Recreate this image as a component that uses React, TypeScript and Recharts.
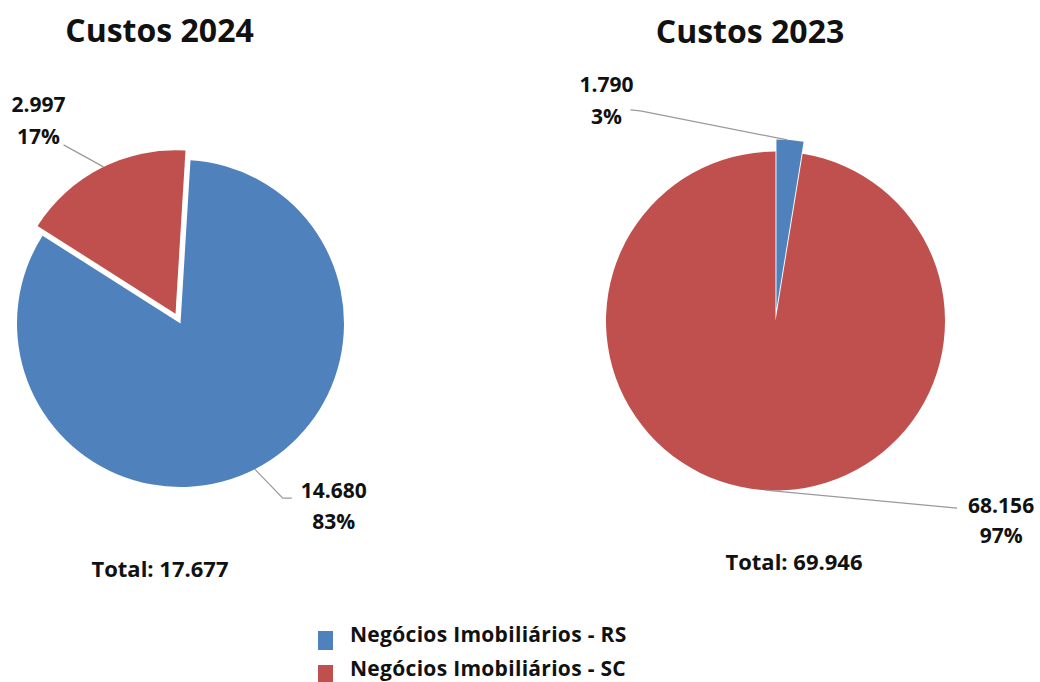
import React from "react";
import { PieChart, Pie, Cell } from "recharts";

// ---- data ----
const seriesNames = ["Negócios Imobiliários - RS", "Negócios Imobiliários - SC"];
const chartTitles = ["Custos 2024", "Custos 2023"];
const values2024 = [14680, 2997];
const values2023 = [1790, 68156];
const explodedIndex = [1, 0]; // which slice is pulled out in each chart

// ---- styles / layout ----
const COLORS = ["#4F81BD", "#C0504D"];
const FONT = "'Open Sans', 'Noto Sans', sans-serif";
const TEXT_COLOR = "#111111";
const LINE_COLOR = "#9a9a9a";
const RAD = Math.PI / 180;

const pieLayout = [
  { cx: 180.5, cy: 323.5, r: 163.5, explode: 11, start: 86.5, titleX: 159.5, titleY: 42, totalX: 160, totalY: 577 },
  { cx: 775.5, cy: 321, r: 169.5, explode: 12, start: 90, titleX: 750, titleY: 43, totalX: 794, totalY: 570 },
];

const legendLayout = { squareX: 318, textX: 350, rows: [{ sy: 631, ty: 642 }, { sy: 665, ty: 676 }] };

type LabelCfg = { shift: number; pts: [number, number][]; tx: number; ty1: number; ty2: number };
const labelCfgs: LabelCfg[][] = [
  [
    { shift: 0, pts: [[28, 29], [37, 29]], tx: 79, ty1: 29, ty2: 60 },
    { shift: -0.9, pts: [[-40, -22]], tx: -65, ty1: -55, ty2: -23 },
  ],
  [
    { shift: 0.9, pts: [[-147, -29], [-157, -30]], tx: -181, ty1: -48, ty2: -16 },
    { shift: 1.1, pts: [[192, 18]], tx: 236, ty1: 23, ty2: 53 },
  ],
];

const fmt = (n: number) => String(n).replace(/\B(?=(\d{3})+(?!\d))/g, ".");

function buildData(values: number[]) {
  return values.map((v, i) => ({ name: seriesNames[i], value: v }));
}

function midAngleOf(values: number[], idx: number, start: number) {
  const total = values.reduce((a, b) => a + b, 0);
  let cum = 0;
  for (let i = 0; i < idx; i++) cum += values[i];
  return start - (360 * (cum + values[idx] / 2)) / total;
}

function makeLabel(chartIdx: number, visible: number[]) {
  return (props: any) => {
    const { index, cx, cy, outerRadius, midAngle, value, percent } = props;
    if (!visible.includes(index)) return null;
    const cfg = labelCfgs[chartIdx][index];
    const a = (midAngle + cfg.shift) * RAD;
    const sx = cx + outerRadius * Math.cos(a);
    const sy = cy - outerRadius * Math.sin(a);
    const points = [[sx, sy], ...cfg.pts.map(([dx, dy]) => [sx + dx, sy + dy])]
      .map((p) => p.join(","))
      .join(" ");
    return (
      <g key={`lbl-${chartIdx}-${index}`}>
        <polyline points={points} fill="none" stroke={LINE_COLOR} strokeWidth={1.2} />
        <text
          x={sx + cfg.tx}
          y={sy + cfg.ty1}
          textAnchor="middle"
          fontFamily={FONT}
          fontWeight={700}
          fontSize={21}
          fill={TEXT_COLOR}
        >
          {fmt(value)}
        </text>
        <text
          x={sx + cfg.tx}
          y={sy + cfg.ty2}
          textAnchor="middle"
          fontFamily={FONT}
          fontWeight={700}
          fontSize={21}
          fill={TEXT_COLOR}
        >
          {`${Math.round(percent * 100)}%`}
        </text>
      </g>
    );
  };
}

function renderPies(values: number[], chartIdx: number) {
  const lay = pieLayout[chartIdx];
  const ex = explodedIndex[chartIdx];
  const data = buildData(values);
  const ang = midAngleOf(values, ex, lay.start) * RAD;
  const ecx = lay.cx + lay.explode * Math.cos(ang);
  const ecy = lay.cy - lay.explode * Math.sin(ang);
  const others = values.map((_, i) => i).filter((i) => i !== ex);
  return [
    <Pie
      key={`base-${chartIdx}`}
      data={data}
      dataKey="value"
      nameKey="name"
      cx={lay.cx}
      cy={lay.cy}
      outerRadius={lay.r}
      startAngle={lay.start}
      endAngle={lay.start - 360}
      isAnimationActive={false}
      label={makeLabel(chartIdx, others)}
      labelLine={false}
      stroke="none"
    >
      {data.map((_, i) => (
        <Cell key={i} fill={i === ex ? "none" : COLORS[i]} stroke="none" />
      ))}
    </Pie>,
    <Pie
      key={`ex-${chartIdx}`}
      data={data}
      dataKey="value"
      nameKey="name"
      cx={ecx}
      cy={ecy}
      outerRadius={lay.r}
      startAngle={lay.start}
      endAngle={lay.start - 360}
      isAnimationActive={false}
      label={makeLabel(chartIdx, [ex])}
      labelLine={false}
      stroke="none"
    >
      {data.map((_, i) => (
        <Cell key={i} fill={i === ex ? COLORS[i] : "none"} stroke="none" />
      ))}
    </Pie>,
  ];
}

export default function App() {
  const allValues = [values2024, values2023];
  return (
    <div style={{ position: "absolute", left: 0, top: 0, width: 1040, height: 682, background: "#fff", overflow: "hidden" }}>
      <PieChart width={1040} height={682} margin={{ top: 0, right: 0, bottom: 0, left: 0 }}>
        {renderPies(values2024, 0)}
        {renderPies(values2023, 1)}
      </PieChart>
      <svg
        width={1040}
        height={682}
        style={{ position: "absolute", left: 0, top: 0, pointerEvents: "none" }}
      >
        {chartTitles.map((t, i) => (
          <text
            key={t}
            x={pieLayout[i].titleX}
            y={pieLayout[i].titleY}
            textAnchor="middle"
            fontFamily={FONT}
            fontWeight={700}
            fontSize={32}
            fill={TEXT_COLOR}
          >
            {t}
          </text>
        ))}
        {allValues.map((vals, i) => (
          <text
            key={`total-${i}`}
            x={pieLayout[i].totalX}
            y={pieLayout[i].totalY}
            textAnchor="middle"
            fontFamily={FONT}
            fontWeight={700}
            fontSize={22}
            fill={TEXT_COLOR}
          >
            {`Total: ${fmt(vals.reduce((a, b) => a + b, 0))}`}
          </text>
        ))}
        {seriesNames.map((n, i) => (
          <g key={n}>
            <rect x={legendLayout.squareX} y={legendLayout.rows[i].sy} width={15} height={19} fill={COLORS[i]} />
            <text
              x={legendLayout.textX}
              y={legendLayout.rows[i].ty}
              fontFamily={FONT}
              fontWeight={700}
              fontSize={21}
              letterSpacing={0.3}
              fill={TEXT_COLOR}
            >
              {n}
            </text>
          </g>
        ))}
      </svg>
    </div>
  );
}
